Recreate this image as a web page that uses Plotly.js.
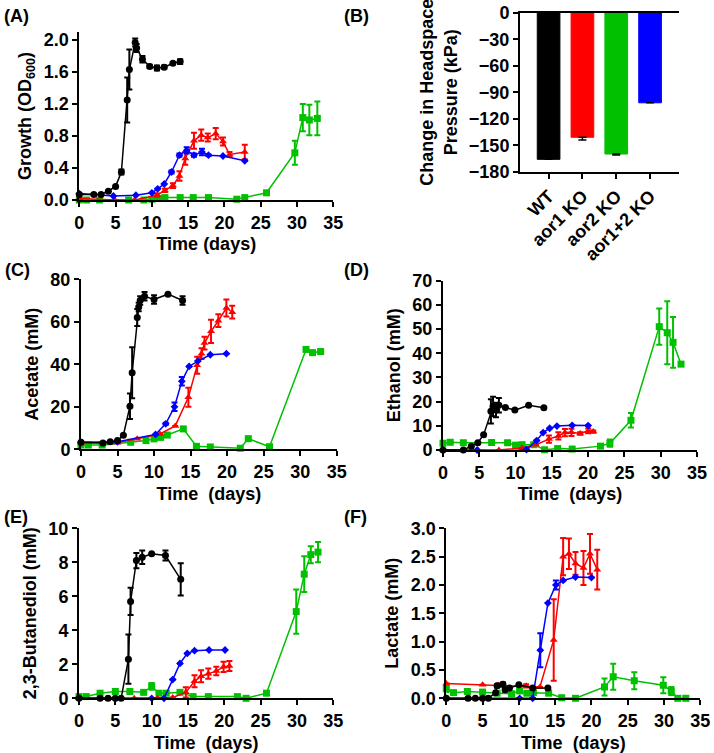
<!DOCTYPE html>
<html>
<head>
<meta charset="utf-8">
<script src="https://cdn.plot.ly/plotly-3.0.1.min.js"></script>
<style>html,body{margin:0;padding:0;background:#fff;}#chart{width:714px;height:753px;}</style>
</head>
<body>
<div id="chart"></div>
<script>
// ---------- Panel A: Growth (OD600) ----------
const A_wt_x  = [0,2,3,4,5,5.8,6.6,6.9,7.7,7.9,8.7,9.7,10.7,11.7,12.9,13.9];
const A_wt_y  = [0.07,0.07,0.07,0.11,0.17,0.35,1.25,1.63,1.97,1.9,1.76,1.67,1.65,1.66,1.71,1.73];
const A_wt_e  = [0,0,0,0,0,0.03,0.28,0.25,0.05,0.05,0.04,0.02,0.03,0.02,0.01,0.03];
const A_b_x   = [0,4.7,7.8,10,10.8,11.7,12.7,13.8,14.8,15.8,16.9,17.8,19.8,22.8];
const A_b_y   = [0.08,0.05,0.06,0.09,0.14,0.2,0.35,0.56,0.62,0.56,0.6,0.56,0.55,0.49];
const A_b_e   = [0,0,0,0,0,0,0.02,0.02,0.04,0.02,0.04,0.01,0,0];
const A_r_x   = [0,4.9,7.6,10.7,11.8,12.9,13.8,14.6,15.8,16.8,17.7,18.8,19.8,20.7,22.8];
const A_r_y   = [0.02,0,0,0.06,0.12,0.18,0.3,0.52,0.74,0.81,0.78,0.83,0.73,0.57,0.6];
const A_r_e   = [0,0,0,0.02,0.02,0.03,0.06,0.08,0.1,0.07,0.05,0.07,0.05,0.03,0.09];
const A_g_x   = [0,1,2.8,6.8,8.9,10,10.9,11.8,13.9,15.7,17.8,21.7,22.8,25.8,29.7,30.8,31.7,32.8];
const A_g_y   = [0,0,0,0,0,0.01,0.02,0.03,0.03,0.03,0.03,0.01,0.03,0.09,0.59,1.03,1.0,1.02];
const A_g_e   = [0,0,0,0,0,0,0,0,0,0,0,0,0,0,0.15,0.17,0.19,0.21];

// ---------- Panel B: headspace pressure ----------
const B_cats  = ['WT','aor1 KO','aor2 KO','aor1+2 KO'];
const B_vals  = [-166,-141,-160,-102];
const B_err   = [0,3,1,0];

// ---------- Panel C: Acetate ----------
const C_wt_x  = [0,3,4,5,5.8,6.7,7,7.7,7.9,8.1,8.7,10,11.9,13.9];
const C_wt_y  = [3.3,3,3.6,4.1,6.6,20.3,36,62,67,70,72,70.5,73,70];
const C_wt_e  = [0,0,0,0,0,6,12,4,2,2,2,2,0,2];
const C_b_x   = [0,5,10.2,11.6,12.8,13.8,14.8,16,17.7,19.9];
const C_b_y   = [3.3,3.5,7,12,20,32,39,41.5,44.5,45];
const C_b_e   = [0,0,0,0.5,2,2,0,0,0,0];
const C_r_x   = [0,5,7.7,10.8,12.9,14.7,15.9,16.5,16.9,17.8,18.8,19.9,20.7];
const C_r_y   = [3,3.1,5,7.2,11,24.5,39.5,45,50,55.5,60.5,66.5,64.5];
const C_r_e   = [0,0,0,0,0,4.5,4,2.5,3,5.5,3,4,3];
const C_g_x   = [0,1,2.9,6.8,8.9,10,10.9,11.8,14,15.8,17.7,21.8,22.9,25.8,30.8,31.7,32.8];
const C_g_y   = [2,2,2,3.3,4.1,4.9,5.6,6.7,9.6,1.4,1.1,0.5,5,1.2,47,45.5,46];
const C_g_e   = [0,0,0,0,0,0,0,0,0,0,0,0,0,0,0,0,0];

// ---------- Panel D: Ethanol ----------
const D_wt_x  = [0,2.8,3.9,4.8,5.6,6.6,6.9,7.3,7.7,8.6,9.9,11.8,13.9];
const D_wt_y  = [0,0,1.6,3,6.3,16,18,16.5,18.5,17.6,16.5,18.5,17.5];
const D_wt_e  = [0,0,0,0,0,5,4,3,3,0,0,0,0];
const D_b_x   = [0,4.7,9.9,11.5,12.9,13.8,14.7,15.7,17.8,20];
const D_b_y   = [0,0,-0.3,0.2,3.9,7.2,9,9.9,10.2,10.1];
const D_b_e   = [0,0,0,0,0,0,0,0,0,0];
const D_r_x   = [0,4.8,7.7,10.9,12.8,14.6,15.9,16.8,17.7,18.9,20,20.7];
const D_r_y   = [0,0,0,0.8,2.2,4.5,5.8,7.2,7.3,6.8,7.9,7.6];
const D_r_e   = [0,0,0,0,0,1.5,1.5,1.5,1.5,0.5,1,0.5];
const D_g_x   = [0,1,2.8,6.7,8.9,10,10.9,12.5,14,15.8,17.8,21.7,23,25.9,29.8,30.9,31.7,32.8];
const D_g_y   = [2.8,3.2,3,3.1,3,2,2.2,2.2,0.1,0.6,0.4,1.6,2.8,12.3,51,48.5,44.5,35.5];
const D_g_e   = [0,0,0,0,0,0,0,0,0,0,0,0,1.5,3,7.5,13,10.5,0];

// ---------- Panel E: 2,3-Butanediol ----------
const E_wt_x  = [0,2.9,4,5,5.8,6.8,7.1,7.9,8.7,10,11.9,14];
const E_wt_y  = [0,0,0,0,0,2.3,5.7,8.1,8.3,8.5,8.4,7.0];
const E_wt_e  = [0,0,0,0,0,1.45,0.8,0.45,0.4,0,0.3,0.95];
const E_b_x   = [0,5,10,11.7,12.9,13.9,14.9,15.9,17.9,20.1];
const E_b_y   = [0,0,0,0,1.1,2.05,2.64,2.8,2.84,2.84];
const E_b_e   = [0,0,0,0,0,0,0,0,0,0];
const E_r_x   = [0,5,7.6,10.8,12.9,14.7,15.9,16.8,17.8,18.9,19.9,20.7];
const E_r_y   = [0,0,0,0,0.05,0.35,1.0,1.3,1.45,1.6,1.85,1.9];
const E_r_e   = [0,0,0,0,0,0.3,0.35,0.35,0.3,0.25,0.3,0.3];
const E_g_x   = [0,1,2.9,5,7,8.9,10,11,12,13.9,15.7,17.8,21.8,23,25.8,29.9,31,31.9,32.9];
const E_g_y   = [0.1,0.1,0.3,0.4,0.4,0.35,0.7,0.3,0.3,0.35,0.1,0.1,0.1,0,0.3,5.1,7.3,8.45,8.6];
const E_g_e   = [0,0,0,0,0,0,0.2,0,0,0,0,0,0,0,0,1.3,1.05,0.5,0.6];

// ---------- Panel F: Lactate ----------
const F_wt_x  = [0,3,4,5,5.8,6.8,7,7.8,8.1,8.7,10,11.9,14];
const F_wt_y  = [0,0,0,0,0,0.1,0.22,0.25,0.15,0.18,0.24,0.18,0.18];
const F_wt_e  = [0,0,0,0,0,0,0.03,0.03,0.03,0,0,0,0];
const F_b_x   = [0,5,10.1,11.9,12.95,14,15.1,16.1,17.8,20];
const F_b_y   = [0,0,0,0,0.85,1.68,2.0,2.08,2.14,2.13];
const F_b_e   = [0,0,0,0,0.3,0,0.08,0,0,0];
const F_r_x   = [0,5,7.2,11,12.9,14.8,16.1,16.9,17.8,18.9,19.8,20.8];
const F_r_y   = [0.26,0.24,0.23,0.22,0.2,1.03,2.5,2.55,2.38,2.3,2.55,2.27];
const F_r_e   = [0,0,0.03,0.03,0,0.72,0.33,0.27,0.2,0.3,0.35,0.35];
const F_g_x   = [0,1,2.9,5,7,9,10.1,11.1,12,14.1,15.9,17.8,21.8,23,25.9,29.9,31,31.9,33];
const F_g_y   = [0.17,0.1,0.12,0.11,0.09,0.08,0.13,0.09,0.1,0.09,0.01,0,0.2,0.38,0.31,0.23,0.13,0,0];
const F_g_e   = [0.06,0,0,0,0,0,0,0,0,0,0,0,0.15,0.23,0.15,0.14,0.07,0,0];

// ---------- styling ----------
const FONT = 'Liberation Sans, Arial, Helvetica, sans-serif';
const W = 714, H = 753;
const BLACK = '#000000', RED = '#ff0000', GREEN = '#00c000', BLUE = '#0000ff';
const SERIES = {
  wt: {color: BLACK, symbol: 'circle', size: 7},
  b:  {color: BLUE,  symbol: 'diamond', size: 6},
  r:  {color: RED,   symbol: 'triangle-up', size: 7},
  g:  {color: GREEN, symbol: 'square', size: 7}
};

function mk(x, y, e, key, n) {
  const s = SERIES[key];
  return {
    type: 'scatter', mode: 'lines+markers', x: x, y: y,
    xaxis: n === 1 ? 'x' : 'x' + n, yaxis: n === 1 ? 'y' : 'y' + n,
    line: {color: s.color, width: 1.5},
    marker: {color: s.color, symbol: s.symbol, size: s.size},
    error_y: {type: 'data', array: e, visible: true, color: s.color, thickness: 2, width: 3},
    cliponaxis: false, showlegend: false, hoverinfo: 'x+y'
  };
}

const traces = [];
const panels = [
  [1, [A_g_x,A_g_y,A_g_e], [A_r_x,A_r_y,A_r_e], [A_b_x,A_b_y,A_b_e], [A_wt_x,A_wt_y,A_wt_e]],
  [3, [C_g_x,C_g_y,C_g_e], [C_r_x,C_r_y,C_r_e], [C_b_x,C_b_y,C_b_e], [C_wt_x,C_wt_y,C_wt_e]],
  [4, [D_g_x,D_g_y,D_g_e], [D_r_x,D_r_y,D_r_e], [D_b_x,D_b_y,D_b_e], [D_wt_x,D_wt_y,D_wt_e]],
  [5, [E_g_x,E_g_y,E_g_e], [E_r_x,E_r_y,E_r_e], [E_b_x,E_b_y,E_b_e], [E_wt_x,E_wt_y,E_wt_e]],
  [6, [F_g_x,F_g_y,F_g_e], [F_r_x,F_r_y,F_r_e], [F_b_x,F_b_y,F_b_e], [F_wt_x,F_wt_y,F_wt_e]]
];
panels.forEach(p => {
  const n = p[0];
  traces.push(mk(p[1][0], p[1][1], p[1][2], 'g', n));
  traces.push(mk(p[2][0], p[2][1], p[2][2], 'r', n));
  traces.push(mk(p[3][0], p[3][1], p[3][2], 'b', n));
  traces.push(mk(p[4][0], p[4][1], p[4][2], 'wt', n));
});

traces.push({
  type: 'bar', x: B_cats, y: B_vals, xaxis: 'x2', yaxis: 'y2',
  marker: {color: [BLACK, RED, GREEN, BLUE], line: {color: [BLACK, RED, GREEN, BLUE], width: 1}},
  error_y: {type: 'data', symmetric: false, array: [0,0,0,0], arrayminus: B_err, color: BLACK, thickness: 1.5, width: 4},
  showlegend: false, hoverinfo: 'x+y'
});

function dx(a, b) { return [a / W, b / W]; }
function dy(top, bottom) { return [1 - bottom / H, 1 - top / H]; }

const tickfont = {family: FONT, size: 18, color: '#000', weight: 700};
const titlefont = {family: FONT, size: 18, color: '#000', weight: 700};

function xax(dom, anchor, title, extra) {
  return Object.assign({
    domain: dom, anchor: anchor, range: [0, 35], dtick: 5, tick0: 0,
    showline: true, linewidth: 2, linecolor: '#000', ticks: 'outside', ticklen: 5, tickwidth: 2, tickcolor: '#000',
    showgrid: false, zeroline: false, tickfont: tickfont, fixedrange: true,
    title: {text: title, font: titlefont, standoff: 6}
  }, extra || {});
}
function yax(dom, anchor, range, dtick, fmt, title, extra) {
  return Object.assign({
    domain: dom, anchor: anchor, range: range, dtick: dtick, tick0: 0, tickformat: fmt,
    showline: true, linewidth: 2, linecolor: '#000', ticks: 'outside', ticklen: 5, tickwidth: 2, tickcolor: '#000',
    showgrid: false, zeroline: false, tickfont: tickfont, fixedrange: true,
    title: {text: title, font: titlefont, standoff: 7}
  }, extra || {});
}

const T2 = 'Time \u00a0(days)';

const layout = {
  width: W, height: H, margin: {l: 0, r: 0, t: 0, b: 0},
  paper_bgcolor: '#fff', plot_bgcolor: 'rgba(0,0,0,0)',
  showlegend: false, bargap: 0.33,
  font: {family: FONT, color: '#000'},
  xaxis:  xax(dx(79.3, 333.3), 'y', 'Time (days)'),
  yaxis:  yax(dy(32, 200), 'x', [0, 2.1], 0.4, '.1f', 'Growth (OD<sub>600</sub>)'),
  xaxis2: {
    domain: dx(520, 679), anchor: 'y2', type: 'category', range: [-0.845, 3.855],
    showline: true, mirror: true, linewidth: 2, linecolor: '#000', ticks: 'outside', ticklen: 5, tickwidth: 2, tickcolor: '#000',
    showgrid: false, zeroline: false, tickfont: tickfont, tickangle: -45, fixedrange: true
  },
  yaxis2: yax(dy(12.7, 171.7), 'x2', [-180, 0], 30, 'd', 'Change in Headspace<br>Pressure (kPa)'),
  xaxis3: xax(dx(81, 336.7), 'y3', T2),
  yaxis3: yax(dy(279.3, 449.3), 'x3', [0, 80], 20, 'd', 'Acetate (mM)'),
  xaxis4: xax(dx(443, 697), 'y4', T2),
  yaxis4: yax(dy(280.7, 450), 'x4', [0, 70], 10, 'd', 'Ethanol (mM)'),
  xaxis5: xax(dx(79, 333.3), 'y5', T2),
  yaxis5: yax(dy(528.3, 698.3), 'x5', [0, 10], 2, 'd', '2,3-Butanediol (mM)'),
  xaxis6: xax(dx(446.3, 700.3), 'y6', T2),
  yaxis6: yax(dy(528.3, 698.3), 'x6', [0, 3], 0.5, '.1f', 'Lactate (mM)'),
  annotations: [
    ['(A)', 2, 16], ['(B)', 342, 16], ['(C)', 3, 270], ['(D)', 342, 270], ['(E)', 2, 517], ['(F)', 342, 517]
  ].map(a => ({
    text: a[0], xref: 'paper', yref: 'paper', x: a[1] / W, y: 1 - a[2] / H,
    xanchor: 'left', yanchor: 'middle', showarrow: false,
    font: {family: FONT, size: 18, color: '#000', weight: 700}
  }))
};

Plotly.newPlot('chart', traces, layout, {staticPlot: true, displayModeBar: false});
</script>
</body>
</html>
